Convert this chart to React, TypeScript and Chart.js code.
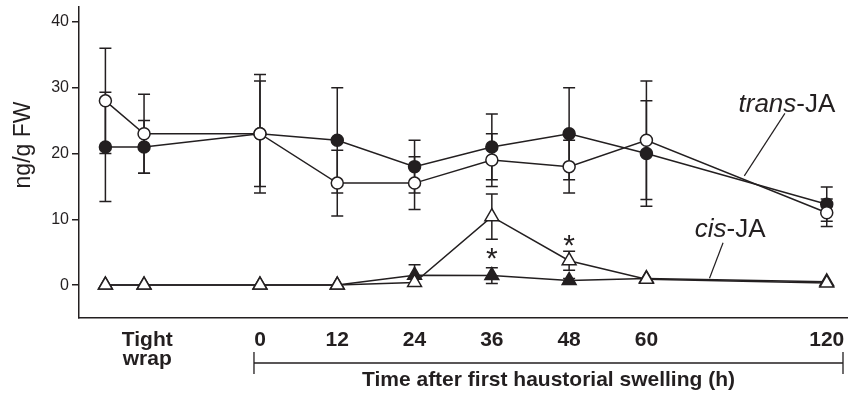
import React, { useEffect, useRef } from 'react';
import { Chart, registerables } from 'chart.js';

Chart.register(...registerables);

// x positions of the sampling points on the (broken) time axis, in hours-like units
const pointPositions = [-24, -18, 0, 12, 24, 36, 48, 60, 88];
// tick positions & labels of the x axis
const tickPositions = [-17.5, 0, 12, 24, 36, 48, 60, 88];
const tickLabels: (string | string[])[] = [['Tight', 'wrap'], '0', '12', '24', '36', '48', '60', '120'];
const yTicks = [0, 10, 20, 30, 40];

// trans-JA (circles)
const transOpen = [28, 23, 23, 15.5, 15.5, 19, 18, 22, 11];
const transOpenErr = [8, 6, 9, 5, 4, 4, 4, 9, 2.1];
const transFilled = [21, 21, 23, 22, 18, 21, 23, 20, 12.3];
const transFilledErr = [8.3, 4, 8, 8, 4, 5, 7, 8, 2.6];

// cis-JA (triangles)
const cisOpen = [0, 0, 0, 0, 0.4, 10.4, 3.7, 0.9, 0.3];
const cisOpenErr = [0, 0, 0, 0, 0, 3.45, 1.45, 0, 0];
const cisFilled = [0, 0, 0, 0, 1.5, 1.45, 0.7, 1.0, 0.5];
const cisFilledErr = [0, 0, 0, 0, 1.6, 1.2, 0.3, 0, 0];

// significance marks
const asteriskPositions = [36, 48];
const asteriskValues = [4.85, 6.85];

const yTitle = 'ng/g FW';
const xTitle = 'Time after first haustorial swelling (h)';

const INK = '#231f20';
const FONT = "'Liberation Sans', Arial, Helvetica, sans-serif";

// labels with leader lines, in data units
const seriesLabels = [
  { italic: 'trans', plain: '-JA', x: 74.3, y: 26.35, from: [81.5, 26.1], to: [75.2, 16.6] },
  { italic: 'cis', plain: '-JA', x: 67.5, y: 7.26, from: [71.9, 6.44], to: [69.8, 1.03] },
];

const toPoints = (vals: number[]) => vals.map((v, i) => ({ x: pointPositions[i], y: v }));

const overlay = {
  id: 'overlay',
  beforeDatasetsDraw(chart: any) {
    const { ctx } = chart;
    const xs = chart.scales.x;
    const ys = chart.scales.y;
    ctx.save();
    ctx.strokeStyle = INK;
    ctx.lineWidth = 1.5;
    const series: [number[], number[]][] = [
      [transOpen, transOpenErr],
      [transFilled, transFilledErr],
      [cisOpen, cisOpenErr],
      [cisFilled, cisFilledErr],
    ];
    for (const [vals, errs] of series) {
      vals.forEach((v, i) => {
        const e = errs[i];
        if (!e) return;
        const px = xs.getPixelForValue(pointPositions[i]);
        const top = ys.getPixelForValue(v + e);
        const bot = ys.getPixelForValue(v - e);
        ctx.beginPath();
        ctx.moveTo(px, top);
        ctx.lineTo(px, bot);
        ctx.moveTo(px - 6, top);
        ctx.lineTo(px + 6, top);
        ctx.moveTo(px - 6, bot);
        ctx.lineTo(px + 6, bot);
        ctx.stroke();
      });
    }
    ctx.restore();
  },
  afterDraw(chart: any) {
    const { ctx, chartArea } = chart;
    const xs = chart.scales.x;
    const ys = chart.scales.y;
    ctx.save();
    ctx.fillStyle = INK;
    ctx.strokeStyle = INK;

    // y title
    ctx.save();
    ctx.translate(24, chartArea.top + 138);
    ctx.rotate(-Math.PI / 2);
    ctx.font = `23px ${FONT}`;
    ctx.textAlign = 'center';
    ctx.textBaseline = 'middle';
    ctx.fillText(yTitle, 0, 0);
    ctx.restore();

    // bracket under time ticks
    const bl = xs.getPixelForValue(0) - 6;
    const br = chartArea.right - 5;
    const by = chartArea.bottom + 45;
    ctx.lineWidth = 1.3;
    ctx.beginPath();
    ctx.moveTo(bl, by);
    ctx.lineTo(br, by);
    ctx.moveTo(bl, by - 11);
    ctx.lineTo(bl, by + 11);
    ctx.moveTo(br, by - 11);
    ctx.lineTo(br, by + 11);
    ctx.stroke();

    // x title
    ctx.font = `bold 21px ${FONT}`;
    ctx.textAlign = 'center';
    ctx.textBaseline = 'alphabetic';
    ctx.fillText(xTitle, (bl + br) / 2, by + 23);

    // series labels with leader lines
    ctx.lineWidth = 1.2;
    ctx.textAlign = 'left';
    for (const l of seriesLabels) {
      const tx = xs.getPixelForValue(l.x);
      const ty = ys.getPixelForValue(l.y);
      ctx.font = `italic 26px ${FONT}`;
      ctx.fillText(l.italic, tx, ty);
      const w = ctx.measureText(l.italic).width;
      ctx.font = `26px ${FONT}`;
      ctx.fillText(l.plain, tx + w, ty);
      ctx.beginPath();
      ctx.moveTo(xs.getPixelForValue(l.from[0]), ys.getPixelForValue(l.from[1]));
      ctx.lineTo(xs.getPixelForValue(l.to[0]), ys.getPixelForValue(l.to[1]));
      ctx.stroke();
    }

    // asterisks
    ctx.font = `30px ${FONT}`;
    ctx.textAlign = 'center';
    ctx.textBaseline = 'alphabetic';
    const m = ctx.measureText('*');
    const asc = m.actualBoundingBoxAscent;
    const desc = m.actualBoundingBoxDescent;
    asteriskPositions.forEach((p, i) => {
      const cx = xs.getPixelForValue(p);
      const cy = ys.getPixelForValue(asteriskValues[i]);
      ctx.fillText('*', cx, cy + (asc - desc) / 2);
    });
    ctx.restore();
  },
};

const noPadding = (s: any) => {
  s.paddingTop = 0;
  s.paddingBottom = 0;
  s.paddingLeft = 0;
  s.paddingRight = 0;
};

export default function App() {
  const ref = useRef<HTMLCanvasElement>(null);

  useEffect(() => {
    if (!ref.current) return;
    const common = {
      borderColor: INK,
      borderWidth: 1.5,
      pointBorderColor: INK,
      pointBorderWidth: 1.5,
      tension: 0,
    };
    const chart = new Chart(ref.current, {
      type: 'line',
      data: {
        datasets: [
          { ...common, label: 'trans-JA open', data: toPoints(transOpen), pointStyle: 'circle', pointRadius: 6, pointBackgroundColor: '#ffffff' },
          { ...common, label: 'trans-JA filled', data: toPoints(transFilled), pointStyle: 'circle', pointRadius: 6, pointBackgroundColor: INK },
          { ...common, label: 'cis-JA open', data: toPoints(cisOpen), pointStyle: 'triangle', pointRadius: 8, pointBackgroundColor: '#ffffff' },
          { ...common, label: 'cis-JA filled', data: toPoints(cisFilled), pointStyle: 'triangle', pointRadius: 8, pointBackgroundColor: INK },
        ],
      },
      options: {
        animation: false,
        responsive: false,
        events: [],
        layout: { autoPadding: false, padding: { top: 7, left: 0, right: 0, bottom: 0 } },
        plugins: { legend: { display: false }, tooltip: { enabled: false } },
        scales: {
          x: {
            type: 'linear',
            min: -28.1,
            max: 91.3,
            afterBuildTicks: (s: any) => {
              s.ticks = tickPositions.map((v) => ({ value: v }));
            },
            afterFit: (s: any) => {
              s.height = 76;
              noPadding(s);
            },
            grid: { display: false, drawTicks: false },
            border: { display: true, color: INK, width: 1.5 },
            ticks: {
              autoSkip: false,
              maxRotation: 0,
              minRotation: 0,
              padding: 13,
              color: INK,
              font: { family: FONT, size: 21, weight: 'bold', lineHeight: 0.9 },
              callback: (_v: any, i: number) => tickLabels[i],
            },
          },
          y: {
            type: 'linear',
            min: -5,
            max: 42.26,
            afterBuildTicks: (s: any) => {
              s.ticks = yTicks.map((v) => ({ value: v }));
            },
            afterFit: (s: any) => {
              s.width = 79;
              noPadding(s);
            },
            grid: { display: true, drawOnChartArea: false, drawTicks: true, tickLength: 7, color: INK, lineWidth: 1.5 },
            border: { display: true, color: INK, width: 1.5 },
            ticks: {
              padding: 3,
              color: INK,
              font: { family: FONT, size: 16 },
              callback: (v: any) => String(v),
            },
          },
        },
      },
      plugins: [overlay],
    } as any);
    return () => chart.destroy();
  }, []);

  return (
    <canvas
      ref={ref}
      width={848}
      height={394}
      style={{ position: 'absolute', left: 0, top: 0, width: 848, height: 394, display: 'block', background: '#fff' }}
    />
  );
}
